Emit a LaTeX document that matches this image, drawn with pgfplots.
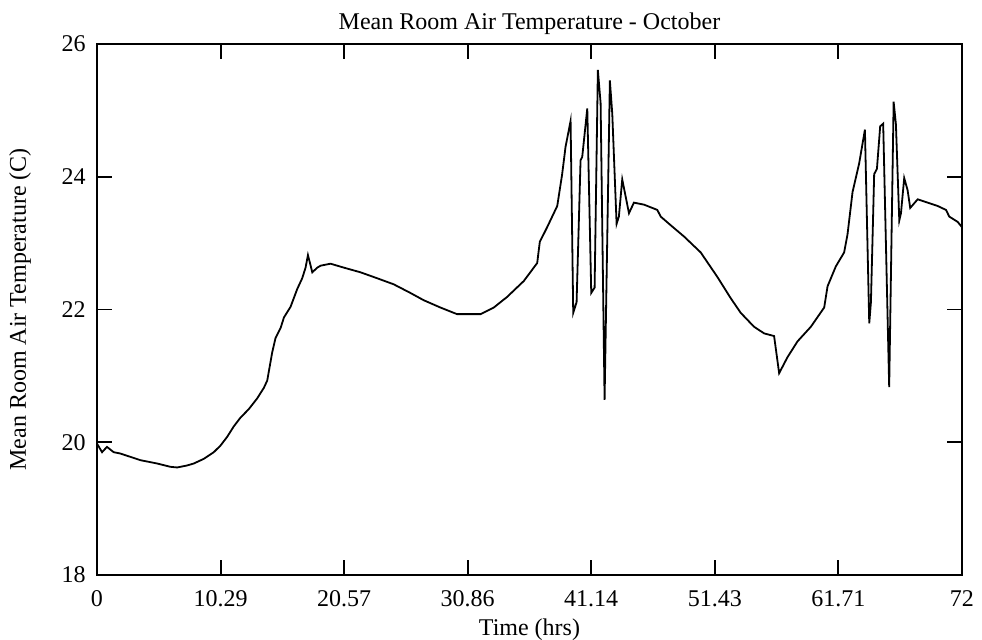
\documentclass[12pt,border=0pt]{standalone}
\usepackage{fontspec}
\setmainfont{Liberation Serif}
\usepackage{pgfplots}
\pgfplotsset{compat=1.18}
\begin{document}
\begin{tikzpicture}
\useasboundingbox (-48.5pt,-32.5pt) rectangle (442.5pt,287.5pt);
\begin{axis}[
  at={(0pt,0pt)}, anchor=south west,
  scale only axis, width=432.5pt, height=265.5pt,
  xmin=0, xmax=72, ymin=18, ymax=26,
  xtick={0,10.29,20.57,30.86,41.14,51.43,61.71,72},
  xticklabels={0,10.29,20.57,30.86,41.14,51.43,61.71,72},
  ytick={18,20,22,24,26},
  yticklabels={18,20,22,24,26},
  tick align=inside, tick pos=both,
  major tick length=7.5pt,
  axis line style={line width=0.9pt},
  every tick/.style={line width=0.9pt, black},
  yticklabel style={xshift=-1.5pt},
  xticklabel style={yshift=-3.5pt},
  title={Mean Room Air Temperature - October},
  title style={yshift=-5.5pt},
  xlabel={Time (hrs)},
  ylabel={Mean Room Air Temperature (C)},
  ylabel style={at={(axis description cs:-0.089,0.5)}, anchor=center},
  xlabel style={at={(axis description cs:0.5,-0.103)}, anchor=center},
  /pgf/number format/assume math mode=true,
]
\addplot[black, line width=0.9pt, mark=none] table {
0 19.98
0.42 19.85
0.83 19.93
1.39 19.85
1.94 19.83
2.78 19.78
3.61 19.73
5.0 19.68
6.11 19.63
6.67 19.62
7.5 19.65
8.06 19.68
8.89 19.75
9.72 19.85
10.28 19.95
10.83 20.08
11.39 20.24
11.94 20.37
12.64 20.50
13.33 20.66
13.89 20.82
14.17 20.93
14.58 21.35
14.86 21.57
15.28 21.72
15.56 21.88
16.11 22.04
16.67 22.31
17.08 22.47
17.36 22.63
17.56 22.82
17.92 22.56
18.33 22.63
18.61 22.66
19.44 22.69
20.56 22.63
21.94 22.56
23.33 22.47
24.69 22.38
26.08 22.25
27.19 22.14
28.58 22.03
29.97 21.93
31.92 21.93
33.03 22.03
34.14 22.19
35.53 22.43
36.64 22.70
36.86 23.02
37.47 23.24
38.31 23.56
38.72 24.04
39.0 24.45
39.42 24.84
39.64 21.95
39.92 22.11
40.25 24.25
40.39 24.30
40.81 25.03
41.14 22.25
41.42 22.33
41.69 25.61
41.92 25.11
42.25 20.64
42.69 25.45
42.89 24.95
43.25 23.29
43.44 23.40
43.72 23.96
44.28 23.45
44.69 23.61
45.53 23.58
46.64 23.50
46.92 23.40
47.75 23.27
48.86 23.10
50.25 22.86
51.64 22.49
52.75 22.17
53.58 21.95
54.69 21.74
55.53 21.64
56.36 21.60
56.78 21.04
57.47 21.28
58.31 21.52
59.42 21.74
60.53 22.03
60.81 22.35
61.5 22.65
62.19 22.86
62.47 23.13
62.89 23.77
63.44 24.20
63.92 24.71
64.28 21.79
64.42 22.11
64.69 24.04
64.92 24.12
65.19 24.76
65.44 24.80
65.94 20.83
66.31 25.13
66.5 24.79
66.78 23.34
66.92 23.45
67.19 23.98
67.47 23.80
67.69 23.53
68.31 23.66
69.14 23.61
69.97 23.56
70.67 23.50
70.94 23.40
71.64 23.32
72 23.24
};
\end{axis}
\end{tikzpicture}
\end{document}
